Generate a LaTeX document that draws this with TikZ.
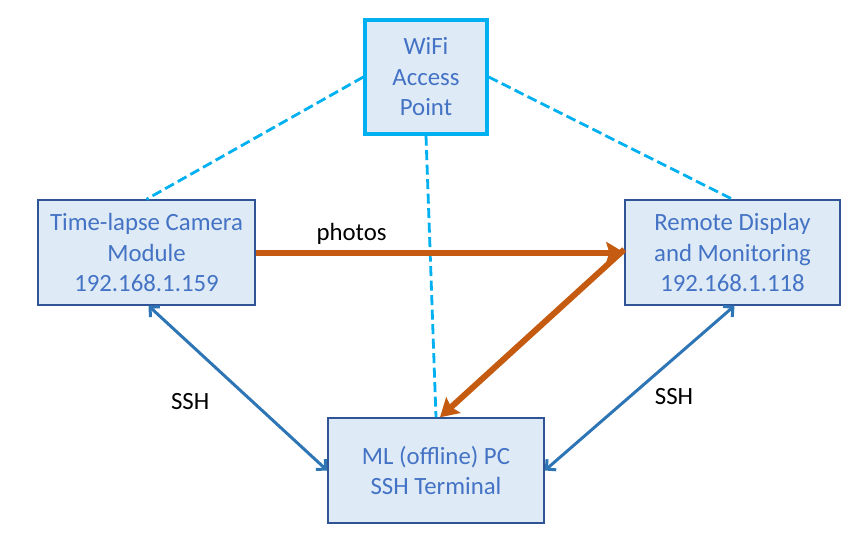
\documentclass[tikz,border=0pt]{standalone}
\usepackage{fontspec}
\setmainfont{Carlito}
\usetikzlibrary{arrows.meta}
\definecolor{boxfill}{HTML}{DEEBF7}
\definecolor{boxline}{HTML}{2F5597}
\definecolor{boxtext}{HTML}{4472C4}
\definecolor{wifiblue}{HTML}{00B0F0}
\definecolor{photoorange}{HTML}{C55A11}
\definecolor{sshblue}{HTML}{2E75B6}

\begin{document}
\begin{tikzpicture}[x=1pt, y=-1pt,
    box/.style={rectangle, draw=boxline, line width=1.5pt, fill=boxfill, text=boxtext,
        align=center, font=\fontsize{24.8}{30.5}\selectfont, inner sep=0pt},
    lbl/.style={font=\fontsize{24.8}{30}\selectfont, text=black}]
        \useasboundingbox (0,0) rectangle (861,541);

        % ノードの定義
        \node[box, draw=wifiblue, line width=3.4pt, minimum width=122pt, minimum height=114pt] (WiFi) at (426,77) {WiFi\\Access\\Point};
        \node[box, minimum width=217pt, minimum height=105pt] (Cam) at (146.5,252.5) {Time-lapse Camera\\Module\\192.168.1.159};
        \node[box, minimum width=215pt, minimum height=105pt] (Remote) at (732.5,252.5) {Remote Display\\and Monitoring\\192.168.1.118};
        \node[box, minimum width=216pt, minimum height=105pt] (ML) at (436,470.5) {ML (offline) PC\\SSH Terminal};

        % WiFi の接続
        \draw[wifiblue, line width=2.8pt, dash pattern=on 10pt off 4.5pt] (WiFi.west) -- (Cam.north);
        \draw[wifiblue, line width=2.8pt, dash pattern=on 10pt off 4.5pt] (WiFi.east) -- (Remote.north);
        \draw[wifiblue, line width=2.8pt, dash pattern=on 10pt off 4.5pt] (WiFi.south) -- (ML.north);

        % 写真の転送
        \draw[-{Stealth[length=18pt, width=21pt, inset=3pt]}, photoorange, line width=6pt] (Cam.east) -- node[lbl, pos=0.26, above=2pt] {photos} (Remote.west);
        \draw[-{Stealth[length=18pt, width=21pt, inset=3pt]}, photoorange, line width=6pt] ([yshift=3pt]Remote.west) -- ([xshift=4pt]ML.north);

        % SSH
        \draw[{Straight Barb[length=7pt, width=14pt]}-{Straight Barb[length=7pt, width=14pt]}, sshblue, line width=3pt] ([xshift=2pt]Cam.south) -- node[lbl, pos=0.58, left=38pt] {SSH} (ML.west);
        \draw[{Straight Barb[length=7pt, width=14pt]}-{Straight Barb[length=7pt, width=14pt]}, sshblue, line width=3pt] ([xshift=2pt]Remote.south) -- node[lbl, pos=0.55, right=20pt] {SSH} (ML.east);
    \end{tikzpicture}
\end{document}
